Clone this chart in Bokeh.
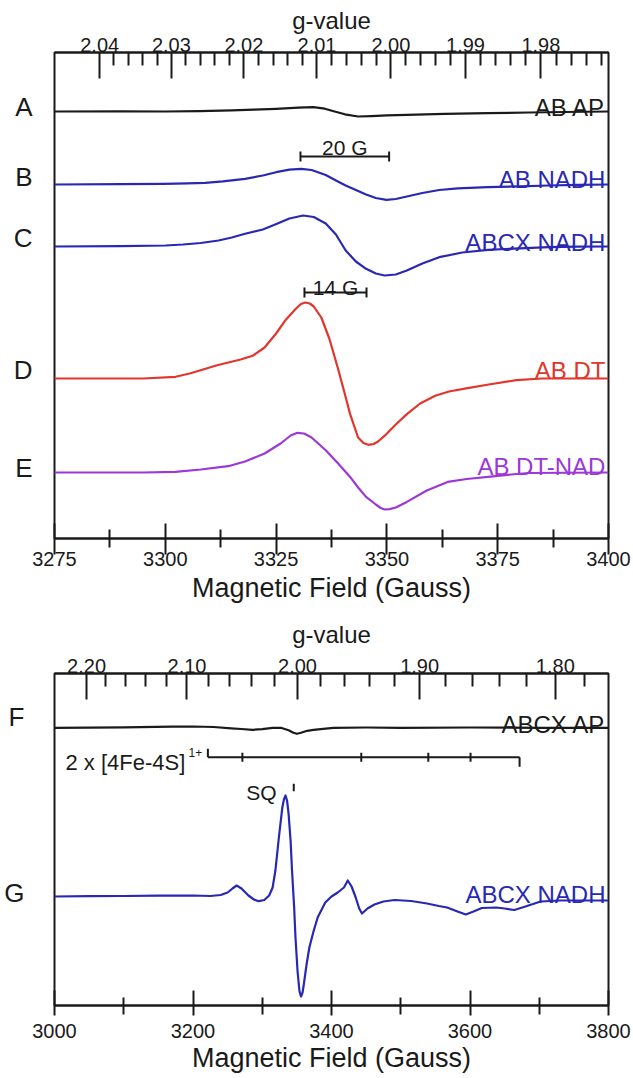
from bokeh.plotting import figure
from bokeh.models import Range1d, LinearAxis, FixedTicker, CustomJSTickFormatter, Label
from bokeh.layouts import column
from bokeh.embed import file_html
from bokeh.resources import INLINE

FONT = "Liberation Sans"
INK = "#1a1a1a"
BLUE = "#2828b4"
RED = "#e2352c"
PURPLE = "#9c38d8"

# g = h*nu / (muB * B)  ->  g * B = constant (Gauss) for the X-band frequency used
MW_FREQ_GHZ = 9.380
G_FIELD_CONST = MW_FREQ_GHZ * 1e9 * 6.62607015e-34 / 9.2740100783e-28

# ---------------- top panel : spectra A-E (field in Gauss, derivative intensity) ----------------
TOP_FIELD_TICKS = [3275, 3300, 3325, 3350, 3375, 3400]
TOP_FIELD_MINOR = [3287.5, 3312.5, 3337.5, 3362.5, 3387.5]
TOP_G_MAJOR = [2.04, 2.03, 2.02, 2.01, 2.00, 1.99, 1.98]
TOP_G_MINOR = [2.038, 2.036, 2.034, 2.032, 2.028, 2.026, 2.024, 2.022, 2.018, 2.016, 2.014,
               2.012, 2.008, 2.006, 2.004, 2.002, 1.998, 1.996, 1.994, 1.992, 1.988, 1.986,
               1.984, 1.982, 1.978, 1.976, 1.974, 1.972]

FIELD_A = [3275, 3290, 3300, 3307.7, 3315, 3320, 3325, 3330, 3333.4, 3336, 3338, 3340.5,
           3343.5, 3346.5, 3350, 3354.5, 3363, 3372.8, 3382, 3390, 3400]
INT_A = [0, 0.2, 0, 0.3, 1.2, 1.8, 2.6, 3.8, 4.3, 2.8, 0.3, -2.8, -5, -4.6, -3.8, -3.3,
         -2.3, -1.7, -1, -0.5, 0]

FIELD_B = [3275, 3290, 3299.5, 3305, 3309, 3313, 3318, 3322, 3325, 3328, 3330.7, 3333,
           3336.2, 3338.5, 3340.7, 3343, 3345.3, 3347.5, 3349.9, 3352, 3354.5, 3358,
           3361.8, 3366, 3372.8, 3380, 3386.5, 3393, 3400]
INT_B = [0, 0.3, 0.7, 1.1, 1.7, 3.2, 5.7, 9, 12.3, 14.8, 15.7, 14.5, 9.5, 4, -1, -5.5, -10,
         -13.5, -15.3, -14.5, -12, -8.5, -5.5, -3.8, -2.7, -1.8, -1, -0.4, 0]

FIELD_C = [3275, 3290, 3300, 3304, 3308, 3312, 3315, 3318, 3322, 3325.2, 3328, 3331.1,
           3333.5, 3336.2, 3338.5, 3340.7, 3343, 3345.3, 3347.5, 3349.5, 3352, 3354.5,
           3358, 3361.8, 3367, 3372.8, 3380, 3386.5, 3393, 3400]
INT_C = [0, 0.3, 1, 2, 3.5, 6, 9, 12.7, 17, 22.7, 28, 31, 29.5, 23, 12, -4, -15, -22.3,
         -27, -29, -28, -24, -17, -10.7, -6, -3.3, -1.8, -0.7, -0.2, 0]

FIELD_D = [3275, 3295, 3302.3, 3305.5, 3308.7, 3311.5, 3314.2, 3317, 3319.7, 3322.4, 3325,
           3327, 3329.5, 3330.6, 3331.6, 3332.6, 3333.5, 3335.2, 3337, 3338.9, 3340.3,
           3341.7, 3343.5, 3344.7, 3345.8, 3347, 3348, 3349.9, 3352, 3354.5, 3357.5, 3360.9,
           3364, 3368.2, 3373, 3379.2, 3385, 3400]
INT_D = [0, 0, 1.7, 5, 9.3, 13, 16, 19, 22.7, 31, 45, 57.7, 70, 74.5, 76, 75, 72, 61, 40,
         11, -12, -35.6, -59, -64.5, -66.3, -65.5, -63, -55.6, -46, -35.6, -25, -17.3, -13,
         -9.7, -6, -1.7, 0, 0]

FIELD_E = [3275, 3295, 3302.3, 3308, 3314.2, 3318, 3322.4, 3326, 3328.3, 3329.8, 3331.3,
           3333, 3336.2, 3339, 3341.7, 3343.5, 3345.3, 3347.5, 3348.6, 3349.5, 3350.6, 3352,
           3354.5, 3359, 3363.7, 3368, 3372.8, 3378, 3382, 3400]
INT_E = [0, 0, 0.7, 3, 6.3, 11, 19, 29, 37, 39.7, 39, 35, 22.3, 9, -4.4, -15, -24.4, -32,
         -35.5, -37, -36.6, -35, -29.4, -18, -9.4, -6.5, -4.4, -2, -0.5, 0]

TOP_NAMES = ["AB AP", "AB NADH", "ABCX NADH", "AB DT", "AB DT-NAD"]
TOP_LETTERS = ["A", "B", "C", "D", "E"]
TOP_COLORS = [INK, BLUE, BLUE, RED, PURPLE]

# ---------------- bottom panel : spectra F, G ----------------
BOT_FIELD_TICKS = [3000, 3200, 3400, 3600, 3800]
BOT_FIELD_MINOR = [3100, 3300, 3500, 3700]
BOT_G_MAJOR = [2.20, 2.10, 2.00, 1.90, 1.80]
BOT_G_MINOR = [2.18, 2.16, 2.14, 2.12, 2.08, 2.06, 2.04, 2.02, 1.98, 1.96, 1.94, 1.92,
               1.88, 1.86, 1.84, 1.82, 1.78]

FIELD_F = [3000, 3100, 3170, 3200, 3230, 3255, 3270, 3286, 3300, 3315, 3327, 3338, 3345,
           3350, 3356, 3365, 3374, 3388, 3403, 3450, 3500, 3600, 3700, 3800]
INT_F = [0, 0.5, 1.2, 1.3, 0.8, -0.5, -1.2, -2, -1.3, 0, 0, -2.5, -5, -6, -5, -3, -2, -1,
         0, 0.3, 0, 0.3, 0, 0]

FIELD_G = [3000, 3050, 3100, 3150, 3200, 3225, 3240, 3250, 3257, 3263, 3270, 3280, 3288,
           3295, 3303, 3310, 3315, 3319, 3324, 3329, 3331.3, 3333.6, 3335.8, 3338, 3341,
           3343, 3346, 3348, 3351, 3353.8, 3356, 3358.2, 3360, 3364, 3368, 3374, 3380, 3391,
           3400, 3409, 3418, 3423.5, 3429, 3435, 3440, 3444, 3452, 3462, 3475, 3491, 3515,
           3538, 3555, 3567, 3582, 3594, 3605, 3617, 3638, 3650, 3664, 3680, 3702, 3730,
           3760, 3800]
INT_G = [0, 0.3, 0.5, 0.8, 1, 0.5, 1.5, 4, 8, 11, 8, 1, -3, -4.7, -3.5, 1, 9, 26, 59, 89,
         97, 101, 96, 83, 55, 26, -10, -41, -75, -95, -100, -96, -88, -68, -51, -35, -21,
         -6, 0, 4, 9, 16, 10, -1, -12, -17, -12, -8, -5, -3.5, -4.5, -7, -9.5, -11, -15,
         -18, -15, -11.5, -11, -12, -13.5, -10, -5, -4, -4, -4]

BOT_NAMES = ["ABCX AP", "ABCX NADH"]
BOT_LETTERS = ["F", "G"]
BOT_COLORS = [INK, BLUE]

# [4Fe-4S] g-tensor markers and semiquinone marker (Gauss)
FES_BRACKET = [3221.5, 3671.6]
FES_TICKS = [3271.3, 3443.0, 3539.8, 3600.8]
SQ_FIELD = 3345.5

# ---------------- layout (vertical baselines in frame px units) ----------------
TOP_OFFSETS = [427, 354, 292, 160, 66]
TOP_LETTER_POS = [432, 362, 301, 169, 71]
BOT_OFFSETS = [277.7, 109]
BOT_LETTER_POS = [288.3, 113]


def make_panel(height, xr, yr, top, bottom, ticks, minor, gmaj, gmin, tick_in, tick_out,
               minor_in, minor_out, lab_standoff, title_standoff, g_title_standoff,
               letter_pos, letters, letter_standoff):
    p = figure(width=633, height=height, x_range=Range1d(*xr), y_range=Range1d(*yr),
               x_axis_location=None, y_axis_location=None, toolbar_location=None,
               output_backend="svg", min_border_left=54, min_border_right=25,
               min_border_top=top, min_border_bottom=bottom)
    p.xgrid.visible = False
    p.ygrid.visible = False
    p.outline_line_color = INK
    p.outline_line_width = 2
    p.background_fill_color = "white"
    p.border_fill_color = "white"

    below = LinearAxis(ticker=FixedTicker(ticks=ticks, minor_ticks=minor),
                       axis_label="Magnetic Field (Gauss)")
    above = LinearAxis(ticker=FixedTicker(ticks=[G_FIELD_CONST / g for g in gmaj],
                                          minor_ticks=[G_FIELD_CONST / g for g in gmin]),
                       formatter=CustomJSTickFormatter(args=dict(c=G_FIELD_CONST),
                                                       code="return (c / tick).toFixed(2);"),
                       axis_label="g-value")
    for ax in (below, above):
        ax.axis_line_color = INK
        ax.axis_line_width = 2
        ax.major_tick_line_color = INK
        ax.major_tick_line_width = 2
        ax.minor_tick_line_color = INK
        ax.minor_tick_line_width = 2
        ax.major_label_text_font = FONT
        ax.major_label_text_font_size = "20px"
        ax.major_label_text_color = INK
        ax.axis_label_text_font = FONT
        ax.axis_label_text_font_style = "normal"
        ax.axis_label_text_color = INK
    below.major_tick_in = tick_in
    below.major_tick_out = tick_out
    below.minor_tick_in = minor_in
    below.minor_tick_out = minor_out
    below.major_label_standoff = lab_standoff
    below.axis_label_standoff = title_standoff
    below.axis_label_text_font_size = "27px"
    above.major_tick_in = 26
    above.major_tick_out = 0
    above.minor_tick_in = 13
    above.minor_tick_out = 0
    above.major_label_standoff = 1
    above.axis_label_standoff = g_title_standoff
    above.axis_label_text_font_size = "24px"

    left = LinearAxis(ticker=FixedTicker(ticks=letter_pos),
                      formatter=CustomJSTickFormatter(
                          args=dict(pos=letter_pos, names=letters),
                          code="const i = pos.indexOf(tick); return i >= 0 ? names[i] : '';"))
    left.axis_line_color = None
    left.major_tick_line_color = None
    left.minor_tick_line_color = None
    left.major_tick_in = 0
    left.major_tick_out = 0
    left.major_label_standoff = letter_standoff
    left.major_label_text_font = FONT
    left.major_label_text_font_size = "26px"
    left.major_label_text_color = INK
    p.add_layout(below, "below")
    p.add_layout(above, "above")
    p.add_layout(left, "left")
    return p


def add_text(p, x, y, text, size, color=INK, align="left", baseline="alphabetic", style="normal"):
    p.add_layout(Label(x=x, y=y, text=text, text_font=FONT, text_font_size=f"{size}px",
                       text_color=color, text_align=align, text_baseline=baseline,
                       text_font_style=style))


# ---------------- top panel ----------------
p1 = make_panel(610, (3275, 3400), (0, 486), 52, 72, TOP_FIELD_TICKS, TOP_FIELD_MINOR,
                TOP_G_MAJOR, TOP_G_MINOR, 15, 16, 9, 9, -3, 4, 1,
                TOP_LETTER_POS, TOP_LETTERS, 22)

top_fields = [FIELD_A, FIELD_B, FIELD_C, FIELD_D, FIELD_E]
top_ints = [INT_A, INT_B, INT_C, INT_D, INT_E]
name_dy = [4, 5, 4, 8, 6]
for fx, iy, off, col, name, ndy in zip(top_fields, top_ints, TOP_OFFSETS, TOP_COLORS,
                                       TOP_NAMES, name_dy):
    p1.line(fx, [v + off for v in iy], line_color=col, line_width=2.2, line_join="round")
    add_text(p1, 3399.3, off + ndy, name, 24, color=col, align="right")

# scale bars
BAR_20G = [3330.5, 3350.5]
BAR_14G = [3331.4, 3345.4]
for bar, yb, lab, ty in ((BAR_20G, 382, "20 G", 391), (BAR_14G, 246, "14 G", 251.5)):
    p1.segment(x0=[bar[0]], y0=[yb], x1=[bar[1]], y1=[yb], line_color=INK, line_width=2)
    p1.segment(x0=bar, y0=[yb - 5, yb - 5], x1=bar, y1=[yb + 5, yb + 5], line_color=INK,
               line_width=2)
    add_text(p1, (bar[0] + bar[1]) / 2, ty, lab, 21, align="center")

# ---------------- bottom panel ----------------
p2 = make_panel(468, (3000, 3800), (0, 332), 63, 73, BOT_FIELD_TICKS, BOT_FIELD_MINOR,
                BOT_G_MAJOR, BOT_G_MINOR, 15, 10, 8, 9, 8, 2, 8,
                BOT_LETTER_POS, BOT_LETTERS, 30)

bot_fields = [FIELD_F, FIELD_G]
bot_ints = [INT_F, INT_G]
for fx, iy, off, col, name, ndy in zip(bot_fields, bot_ints, BOT_OFFSETS, BOT_COLORS,
                                       BOT_NAMES, [3.3, 2]):
    p2.line(fx, [v + off for v in iy], line_color=col, line_width=2.2, line_join="round")
    add_text(p2, 3795.7, off + ndy, name, 24, color=col, align="right")

# 2 x [4Fe-4S]1+ marker bracket
yb = 248.3
p2.segment(x0=[FES_BRACKET[0]], y0=[yb], x1=[FES_BRACKET[1]], y1=[yb], line_color=INK, line_width=2)
p2.segment(x0=[FES_BRACKET[0]], y0=[yb], x1=[FES_BRACKET[0]], y1=[yb + 8.5], line_color=INK, line_width=2)
p2.segment(x0=[FES_BRACKET[1]], y0=[yb], x1=[FES_BRACKET[1]], y1=[yb - 9.5], line_color=INK, line_width=2)
p2.segment(x0=FES_TICKS, y0=[yb - 4.5] * 4, x1=FES_TICKS, y1=[yb + 4.5] * 4, line_color=INK,
           line_width=2)
add_text(p2, 3015.9, 243, "2 x [4Fe-4S]", 22)
add_text(p2, 3193.5, 253, "1+", 12)

# semiquinone marker
p2.segment(x0=[SQ_FIELD], y0=[214.3], x1=[SQ_FIELD], y1=[221.7], line_color=INK, line_width=2)
add_text(p2, 3298.7, 213.3, "SQ", 21, align="center")

layout = column(p1, p2, spacing=0)
open("out.html", "w").write(file_html(layout, INLINE))
